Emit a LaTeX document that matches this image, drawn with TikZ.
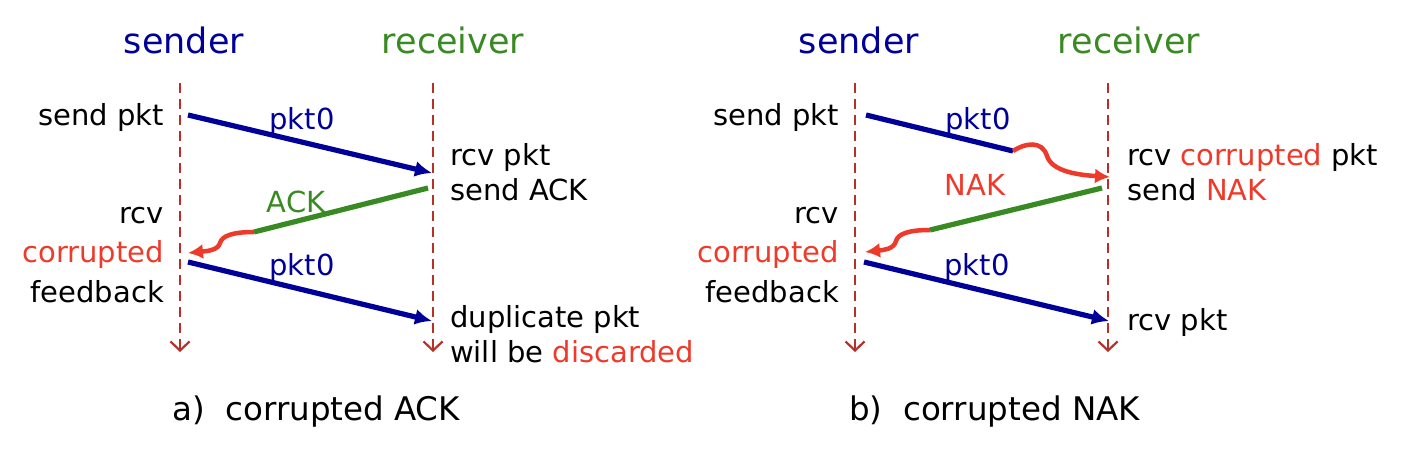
\documentclass[tikz,border=0pt]{standalone}
\usepackage{fontspec}
\setmainfont{DejaVu Sans}
\usetikzlibrary{arrows.meta}
\definecolor{navy}{HTML}{000099}
\definecolor{grn}{HTML}{3A8A23}
\definecolor{rd}{HTML}{EE3A2A}
\definecolor{life}{HTML}{B8302A}
\tikzset{
  lifeline/.style={draw=life, line width=2.5pt, dash pattern=on 10pt off 6pt, -{Straight Barb[length=9pt,width=19pt,line width=2.2pt]}},
  title/.style={font=\fontsize{35}{40}\selectfont, inner sep=0pt},
  txt/.style={font=\fontsize{29}{35}\selectfont, inner sep=0pt},
  captxt/.style={font=\fontsize{32.5}{38}\selectfont, inner sep=0pt, anchor=base west},
  pktarrow/.style={draw=navy, line width=5.2pt, -{Latex[length=17pt,width=16pt]}},
  pktline/.style={draw=navy, line width=5.2pt},
  ackline/.style={draw=grn, line width=5.2pt},
  bad/.style={draw=rd, line width=4.5pt, -{Latex[length=15pt,width=15pt]}},
}
\begin{document}
\begin{tikzpicture}[x=1pt,y=-1pt]
\useasboundingbox (0,0) rectangle (1410,476);
% ---------- (a) ----------
\node[title, text=navy, anchor=base] (sa) at (184,54) {sender};
\node[title, text=grn, anchor=base] (ra) at (453,54) {receiver};
\coordinate (sat) at (180,83); \coordinate (sab) at (180,352);
\coordinate (rat) at (433,83); \coordinate (rab) at (433,352);
\draw[lifeline] (sat) -- (sab);
\draw[lifeline] (rat) -- (rab);
\node[txt, anchor=base east] (a1) at (164,125) {send pkt};
\node[txt, anchor=base west] (a2) at (450,165) {rcv pkt};
\node[txt, anchor=base west] (a3) at (450,200) {send ACK};
\node[txt, anchor=base east] (a4) at (164,223) {rcv};
\node[txt, anchor=base east, text=rd] (a5) at (164,262) {corrupted};
\node[txt, anchor=base east] (a6) at (164,302) {feedback};
\node[txt, anchor=base west] (a7) at (450,327) {duplicate pkt};
\node[txt, anchor=base west] (a8) at (450,362) {will be \textcolor{rd}{discarded}};
\coordinate (ap1s) at (188,115); \coordinate (ap1e) at (432,173);
\draw[pktarrow] (ap1s) -- (ap1e);
\node[txt, text=navy, anchor=base] (ap1l) at (302,129) {pkt0};
\coordinate (aas) at (428,188); \coordinate (aae) at (254,232);
\draw[ackline] (aas) -- (aae);
\node[txt, text=grn, anchor=base] (aal) at (296,212) {ACK};
\coordinate (aat) at (188,253);
\draw[bad] (aae) .. controls (232,232) and (222,236) .. (220,243) .. controls (218,250) and (208,251) .. (aat);
\coordinate (ap2s) at (188,262); \coordinate (ap2e) at (432,321);
\draw[pktarrow] (ap2s) -- (ap2e);
\node[txt, text=navy, anchor=base] (ap2l) at (302,275) {pkt0};
\node[captxt] (capa) at (172,420) {a)\ \ corrupted ACK};
% ---------- (b) ----------
\node[title, text=navy, anchor=base] (sb) at (859,54) {sender};
\node[title, text=grn, anchor=base] (rb) at (1129,54) {receiver};
\coordinate (sbt) at (855,83); \coordinate (sbb) at (855,352);
\coordinate (rbt) at (1108,83); \coordinate (rbb) at (1108,352);
\draw[lifeline] (sbt) -- (sbb);
\draw[lifeline] (rbt) -- (rbb);
\node[txt, anchor=base east] (b1) at (839,125) {send pkt};
\node[txt, anchor=base west] (b2) at (1127,165) {rcv \textcolor{rd}{corrupted} pkt};
\node[txt, anchor=base west] (b3) at (1127,200) {send \textcolor{rd}{NAK}};
\node[txt, anchor=base east] (b4) at (839,223) {rcv};
\node[txt, anchor=base east, text=rd] (b5) at (839,262) {corrupted};
\node[txt, anchor=base east] (b6) at (839,302) {feedback};
\node[txt, anchor=base west] (b7) at (1127,330) {rcv pkt};
\coordinate (bp1s) at (866,115); \coordinate (bp1e) at (1013,151);
\draw[pktline] (bp1s) -- (bp1e);
\node[txt, text=navy, anchor=base] (bp1l) at (978,129) {pkt0};
\coordinate (bpt) at (1110,177);
\draw[bad] (bp1e) .. controls (1025,143) and (1042,140) .. (1047,156) .. controls (1052,172) and (1080,175) .. (bpt);
\coordinate (bns) at (1102,188); \coordinate (bne) at (930,230);
\draw[ackline] (bns) -- (bne);
\node[txt, text=rd, anchor=base] (bnl) at (975,195) {NAK};
\coordinate (bnt) at (865,252);
\draw[bad] (bne) .. controls (908,230) and (898,234) .. (896,241) .. controls (894,249) and (884,250) .. (bnt);
\coordinate (bp2s) at (864,262); \coordinate (bp2e) at (1109,321);
\draw[pktarrow] (bp2s) -- (bp2e);
\node[txt, text=navy, anchor=base] (bp2l) at (977,275) {pkt0};
\node[captxt] (capb) at (849,420) {b)\ \ corrupted NAK};
\end{tikzpicture}
\end{document}
